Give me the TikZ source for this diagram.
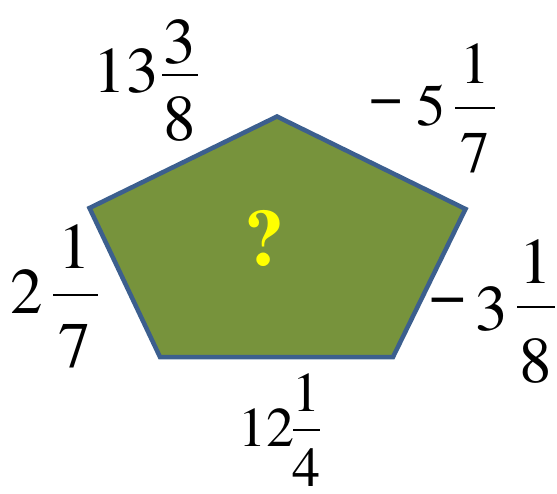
\documentclass[tikz,border=0pt]{standalone}
\usepackage{fontspec}
\newfontfamily\tnr{TeX Gyre Termes}
\definecolor{olivefill}{HTML}{77933C}
\definecolor{edgeblue}{HTML}{3C5F8E}
\definecolor{qyellow}{HTML}{FFFF00}
\begin{document}
\begin{tikzpicture}[x=1pt,y=-1pt,
  num/.style={inner sep=0pt,anchor=base},
  fbar/.style={line width=2.8pt},
  f65/.style={font=\tnr\fontsize{65}{65}\selectfont},
  f60/.style={font=\tnr\fontsize{59}{59}\selectfont},
  f56/.style={font=\tnr\fontsize{56}{56}\selectfont}]
\useasboundingbox (0,0) rectangle (557,493);
% pentagon
\coordinate (T) at (277,116.5);
\coordinate (R) at (465.5,209);
\coordinate (BR) at (393,357);
\coordinate (BL) at (160,357);
\coordinate (L) at (89.5,208);
\draw[edgeblue,fill=olivefill,line width=4.5pt,line join=miter] (T) -- (R) -- (BR) -- (BL) -- (L) -- cycle;
\node[num,text=qyellow,font=\tnr\fontsize{80}{80}\selectfont\bfseries] (q) at (264,265) {?};
% label 1: 13 3/8
\node[num,f65] (a1) at (126,92) {13};
\coordinate (a1l) at (162,75); \coordinate (a1r) at (198,75);
\draw[fbar] (a1l) -- (a1r);
\node[num,f65] (a1n) at (180,63) {3};
\node[num,f65] (a1d) at (180,140) {8};
% label 2: -5 1/7
\node[inner sep=0pt,f60] (b0) at (386.5,108) {−};
\node[num,f60] (b1) at (431,125) {5};
\coordinate (b1l) at (455,108); \coordinate (b1r) at (495,108);
\draw[fbar] (b1l) -- (b1r);
\node[num,f60] (b1n) at (475,83) {1};
\node[num,f60] (b1d) at (475,172) {7};
% label 3: 2 1/7
\node[num,f65] (c1) at (27,313) {2};
\coordinate (c1l) at (53,295); \coordinate (c1r) at (98,295);
\draw[fbar] (c1l) -- (c1r);
\node[num,f65] (c1n) at (75,268) {1};
\node[num,f65] (c1d) at (75,367) {7};
% label 4: -3 1/8
\node[inner sep=0pt,f65] (d0) at (448,307) {−};
\node[num,f65] (d1) at (492,330) {3};
\coordinate (d1l) at (517,307); \coordinate (d1r) at (555,307);
\draw[fbar] (d1l) -- (d1r);
\node[num,f65] (d1n) at (536,283) {1};
\node[num,f65] (d1d) at (536,382) {8};
% label 5: 12 1/4
\node[num,f56] (e1) at (266,446) {12};
\coordinate (e1l) at (293,430); \coordinate (e1r) at (320,430);
\draw[fbar] (e1l) -- (e1r);
\node[num,f56] (e1n) at (306,411) {1};
\node[num,f56] (e1d) at (306,486) {4};
\end{tikzpicture}
\end{document}
